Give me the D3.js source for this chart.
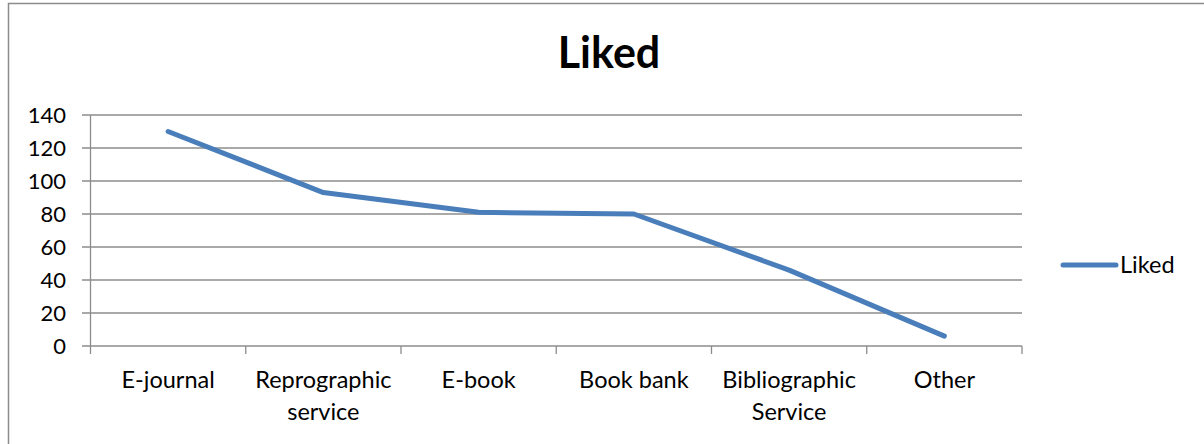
<!DOCTYPE html>
<html><head><meta charset="utf-8">
<script src="https://cdn.jsdelivr.net/npm/d3@7"></script>
<style>body{margin:0;background:#fff}svg{display:block}text{font-family:Lato,"Open Sans",sans-serif}</style>
</head><body>
<svg id="c" width="1204" height="444"></svg>
<script>
const categories = [["E-journal"],["Reprographic","service"],["E-book"],["Book bank"],["Bibliographic","Service"],["Other"]];
const values = [130, 93, 81, 80, 46, 6];
const yTicks = [0,20,40,60,80,100,120,140];
const seriesName = "Liked";

(function(){
const svg = d3.select("#c");
svg.append("rect").attr("x",8.5).attr("y",3.5).attr("width",1300).attr("height",600)
  .attr("fill","none").attr("stroke","#8c8c8c").attr("stroke-width",1.5);

const pL=90.5, pR=1022, pT=115, pB=346;
const x = d3.scaleBand().domain(categories.map((d,i)=>i)).range([pL,pR]).padding(0);
const y = d3.scaleLinear().domain([0,140]).range([pB,pT]);

svg.append("g").selectAll("line").data(yTicks).join("line")
  .attr("x1",82).attr("x2",pR).attr("y1",d=>y(d)).attr("y2",d=>y(d))
  .attr("stroke","#8c8c8c").attr("stroke-width",1.3);
svg.append("line").attr("x1",pL).attr("x2",pL).attr("y1",pT).attr("y2",pB+8)
  .attr("stroke","#8c8c8c").attr("stroke-width",1.3);
const bounds = categories.map((d,i)=>x(i)).concat([pR]);
svg.append("g").selectAll("line").data(bounds.slice(1)).join("line")
  .attr("x1",d=>d).attr("x2",d=>d).attr("y1",pB).attr("y2",pB+8)
  .attr("stroke","#8c8c8c").attr("stroke-width",1.3);

svg.append("g").selectAll("text").data(yTicks).join("text")
  .attr("x",66).attr("y",d=>y(d)).attr("dy","0.36em").attr("text-anchor","end")
  .attr("font-size",22).attr("fill","#000").text(d=>d);

const xl = svg.append("g").selectAll("text").data(categories).join("text")
  .attr("x",(d,i)=>x(i)+x.bandwidth()/2).attr("y",388).attr("text-anchor","middle")
  .attr("font-size",23.5).attr("fill","#000");
xl.each(function(d){
  const t=d3.select(this);
  d.forEach((s,j)=>t.append("tspan").attr("x",t.attr("x")).attr("dy",j?32:0).text(s));
});

const line = d3.line().x((d,i)=>x(i)+x.bandwidth()/2).y(d=>y(d));
svg.append("path").datum(values).attr("d",line).attr("fill","none")
  .attr("stroke","#4a7ebb").attr("stroke-width",5).attr("stroke-linecap","round").attr("stroke-linejoin","round");

svg.append("text").attr("x",609).attr("y",68).attr("text-anchor","middle")
  .attr("font-size",43).attr("font-weight","bold").attr("fill","#000").text(seriesName);

svg.append("line").attr("x1",1063).attr("x2",1116).attr("y1",265).attr("y2",265)
  .attr("stroke","#4a7ebb").attr("stroke-width",5).attr("stroke-linecap","round");
svg.append("text").attr("x",1120).attr("y",265).attr("dy","0.36em")
  .attr("font-size",23.5).attr("fill","#000").text(seriesName);
})();
</script>
</body></html>
